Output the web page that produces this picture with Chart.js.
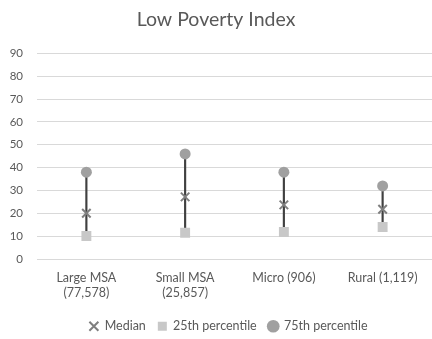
<!DOCTYPE html>
<html>
<head>
<meta charset="utf-8">
<script src="https://cdn.jsdelivr.net/npm/chart.js@4"></script>
<style>
  html, body { margin: 0; padding: 0; background: #ffffff; }
  #wrap { width: 432px; height: 339px; }
</style>
</head>
<body>
<div id="wrap"><canvas id="chart" width="432" height="339"></canvas></div>
<script>
// Low Poverty Index by area type (count of tracts in brackets)
const categories = [
  ['Large MSA', '(77,578)'],
  ['Small MSA', '(25,857)'],
  'Micro (906)',
  'Rural (1,119)'
];
const median = [20, 27.2, 23.7, 21.8];
const p25 = [10.1, 11.5, 11.8, 14];
const p75 = [38, 46, 38, 32];
const yTicks = [0, 10, 20, 30, 40, 50, 60, 70, 80, 90];

const textColor = '#595959';
const fontFamily = 'Lato, "Open Sans", sans-serif';

// high-low connector from the 25th to the 75th percentile
const rangeBars = p25.map((lo, i) => [lo, p75[i]]);

// nudge the legend row a little lower and left of its default slot
const legendNudge = {
  id: 'legendNudge',
  afterLayout(chart) {
    const lg = chart.legend;
    if (!lg) return;
    lg.top += 3.5;
    lg.bottom += 3.5;
    lg.left -= 6;
    lg.right -= 6;
  }
};

new Chart(document.getElementById('chart'), {
  type: 'line',
  data: {
    labels: categories,
    datasets: [
      {
        label: 'Median',
        data: median,
        showLine: false,
        pointStyle: 'crossRot',
        pointRadius: 6,
        pointBorderWidth: 2,
        borderColor: '#7f7f7f',
        backgroundColor: '#7f7f7f',
        order: 1
      },
      {
        label: '25th percentile',
        data: p25,
        showLine: false,
        pointStyle: 'rect',
        pointRadius: 7,
        pointBorderWidth: 0,
        borderColor: '#c8c8c8',
        backgroundColor: '#c8c8c8',
        order: 2
      },
      {
        label: '75th percentile',
        data: p75,
        showLine: false,
        pointStyle: 'circle',
        pointRadius: 5.5,
        pointBorderWidth: 0,
        borderColor: '#a0a0a0',
        backgroundColor: '#a0a0a0',
        order: 3
      },
      {
        type: 'bar',
        label: 'range',
        data: rangeBars,
        backgroundColor: '#404040',
        borderWidth: 0,
        barThickness: 1.5,
        grouped: false,
        order: 10
      }
    ]
  },
  options: {
    responsive: false,
    animation: false,
    layout: { padding: 0, autoPadding: false },
    scales: {
      x: {
        offset: true,
        grid: { display: false, drawTicks: false, offset: true },
        border: { display: false },
        afterFit: (axis) => { axis.height = 45.5; axis.paddingLeft = 0; axis.paddingRight = 0; },
        ticks: {
          color: textColor,
          font: { family: fontFamily, size: 12.5, lineHeight: 1.2 },
          padding: 11,
          maxRotation: 0,
          autoSkip: false
        }
      },
      y: {
        min: 0,
        max: 90,
        afterBuildTicks: (axis) => { axis.ticks = yTicks.map(v => ({ value: v })); },
        afterFit: (axis) => { axis.width = 37; },
        grid: { color: '#d9d9d9', lineWidth: 1, drawTicks: false },
        border: { display: false },
        ticks: {
          color: textColor,
          font: { family: fontFamily, size: 11.5 },
          padding: 14
        }
      }
    },
    plugins: {
      title: {
        display: true,
        text: 'Low Poverty Index',
        color: textColor,
        font: { family: fontFamily, size: 19.5, weight: 'normal' },
        padding: { top: 8, bottom: 22 }
      },
      legend: {
        position: 'bottom',
        fullSize: false,
        labels: {
          color: textColor,
          font: { family: fontFamily, size: 12.5 },
          usePointStyle: true,
          boxWidth: 9,
          boxHeight: 9,
          padding: 12,
          filter: (item) => item.datasetIndex < 3
        }
      },
      tooltip: { enabled: false }
    }
  },
  plugins: [legendNudge]
});
</script>
</body>
</html>
